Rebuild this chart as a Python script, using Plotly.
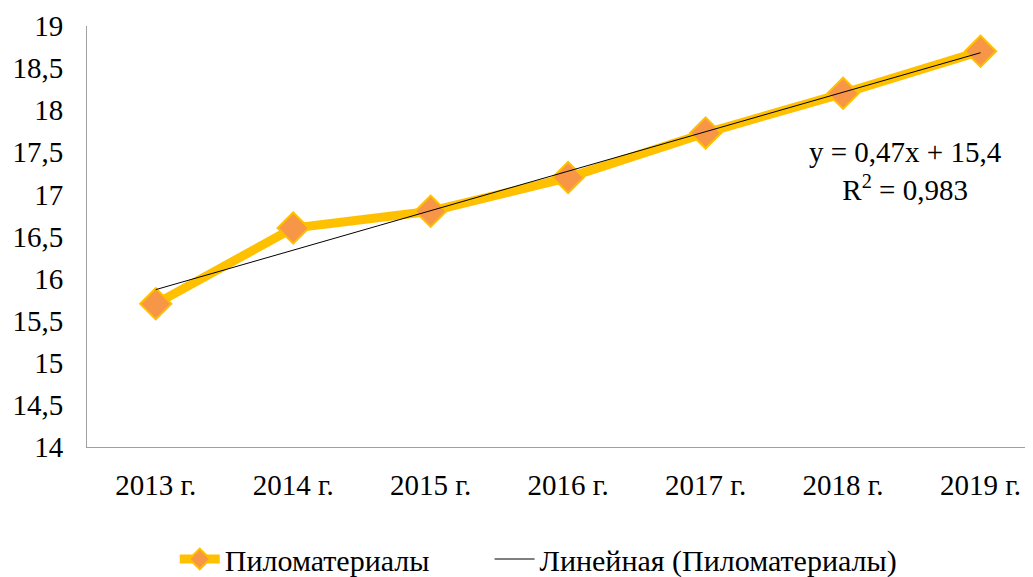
import numpy as np
import plotly.graph_objects as go

years = ["2013 г.", "2014 г.", "2015 г.", "2016 г.", "2017 г.", "2018 г.", "2019 г."]
lumber = [15.7, 16.6, 16.8, 17.2, 17.73, 18.2, 18.7]
y_ticks = [14, 14.5, 15, 15.5, 16, 16.5, 17, 17.5, 18, 18.5, 19]

# linear trend, same as the spreadsheet trendline
xn = np.arange(1, len(lumber) + 1)
k, b = np.polyfit(xn, lumber, 1)
trend = k * xn + b

font = "Liberation Serif"

fig = go.Figure()
fig.add_trace(go.Scatter(
    x=years, y=lumber, name="Пиломатериалы", mode="lines+markers",
    line=dict(color="#FFC000", width=9),
    marker=dict(symbol="diamond", size=24, color="#F79646",
                line=dict(color="#FFC000", width=2)),
    legend="legend",
))
fig.add_trace(go.Scatter(
    x=years, y=trend, name="Линейная (Пиломатериалы)", mode="lines",
    line=dict(color="#000000", width=1),
    legend="legend2",
))

fig.add_annotation(x=0.858, y=0.656, xref="paper", yref="paper",
                   xanchor="center", yanchor="middle",
                   text="y = 0,47x + 15,4<br>R<sup>2</sup> = 0,983",
                   showarrow=False, align="center",
                   font=dict(family=font, size=29, color="#000"))

leg = dict(orientation="h", y=-0.265, yanchor="middle", xanchor="left",
           font=dict(family=font, size=30, color="#000"), itemwidth=40)

# the page body adds an 8px offset, margins account for it
fig.update_layout(
    width=1033, height=577,
    margin=dict(l=79, r=0, t=18, b=137),
    paper_bgcolor="white", plot_bgcolor="white",
    separators=", ",
    font=dict(family=font, size=29, color="#000"),
    showlegend=True,
    legend=dict(leg, x=0.092),
    legend2=dict(leg, x=0.422),
)
fig.update_xaxes(range=[-0.5, 6.44], showgrid=False, showline=True, automargin=False,
                 linecolor="#A0A0A0", linewidth=1, ticks="", ticklabelstandoff=12,
                 tickfont=dict(family=font, size=29))
fig.update_yaxes(range=[14, 19], tickvals=y_ticks, showgrid=False, showline=True,
                 automargin=False, linecolor="#A0A0A0", linewidth=1, ticks="",
                 ticklabelstandoff=17, zeroline=False,
                 tickfont=dict(family=font, size=29))

fig.write_html("out.html")
